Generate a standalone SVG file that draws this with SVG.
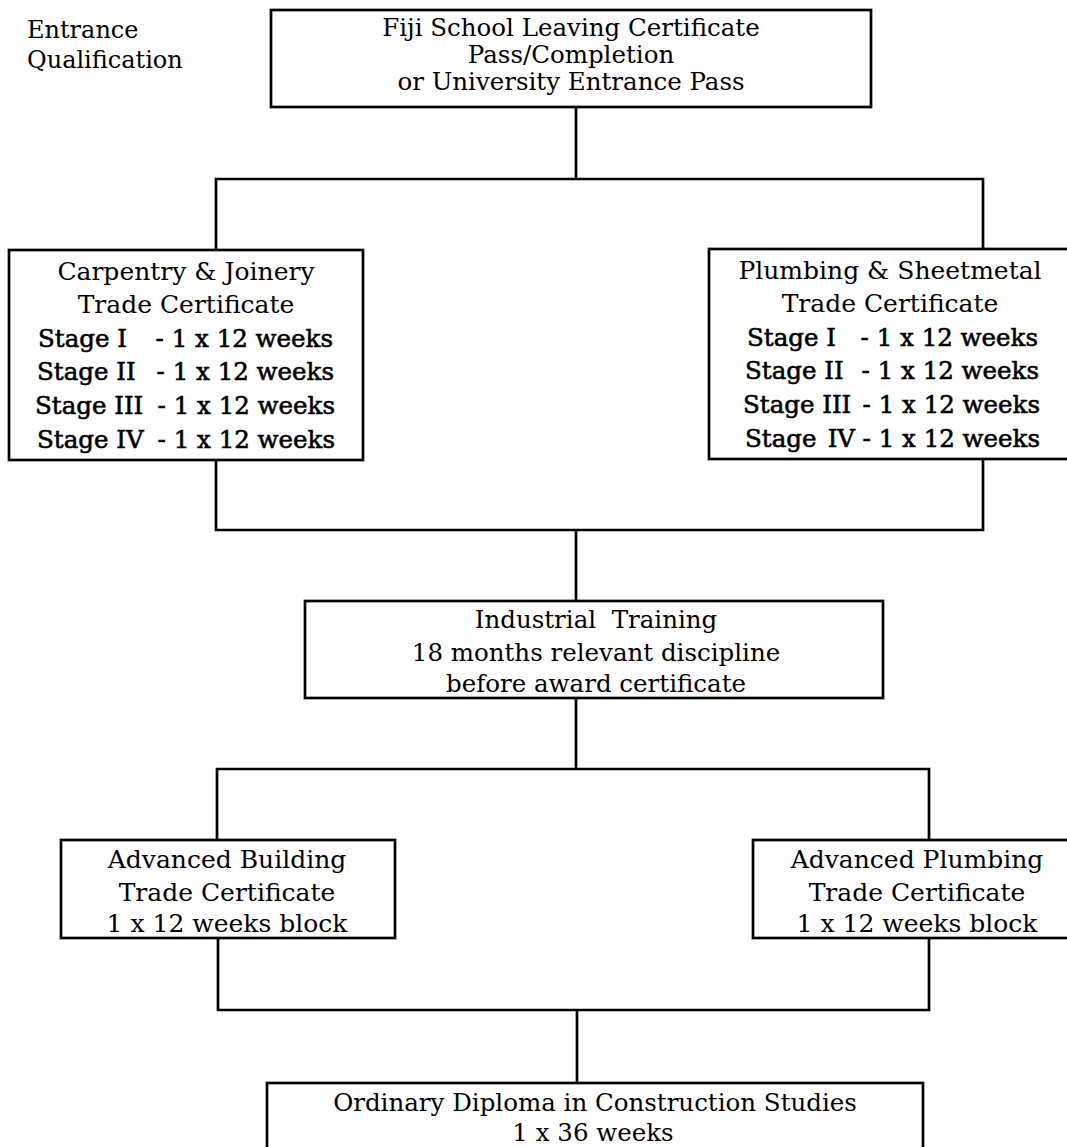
<svg xmlns="http://www.w3.org/2000/svg" width="1067" height="1147" viewBox="0 0 1067 1147">
<style>
.box{fill:#fff;stroke:#000;stroke-width:2.7}
.ln{fill:none;stroke:#000;stroke-width:2.7}
text{font-family:"DejaVu Serif","Liberation Serif",serif;font-size:24.5px;fill:#000}
.c{text-anchor:middle}
.e{text-anchor:end}
.b{stroke:#000;stroke-width:0.6}
.big{font-size:25px}
</style>
<rect width="1067" height="1147" fill="#fff"/>
<g id="connectors">
<path class="ln" d="M576,107 V179 M216,250 V179 H983 V249"/>
<path class="ln" d="M216,460 V530 H983 V459 M576,530 V601"/>
<path class="ln" d="M576,698 V769 M217,840 V769 H929 V840"/>
<path class="ln" d="M218,938 V1010 H929 V938 M577,1010 V1083"/>
</g>
<g id="label-entrance">
<text x="27" y="38" style="font-size:24px">Entrance</text>
<text x="27" y="68" style="font-size:24px">Qualification</text>
</g>
<g id="node-fslc">
<rect class="box" x="271" y="10" width="600" height="97"/>
<text class="c" x="571" y="36">Fiji School Leaving Certificate</text>
<text class="c" x="571" y="63">Pass/Completion</text>
<text class="c" x="571" y="90">or University Entrance Pass</text>
</g>
<g id="node-carpentry">
<rect class="box" x="9" y="250" width="354" height="210"/>
<text class="c big" x="186" y="280">Carpentry &amp; Joinery</text>
<text class="c big" x="186" y="313">Trade Certificate</text>
<text class="b" x="38" y="347">Stage I</text><text class="b e" x="333" y="347">- 1 x 12 weeks</text>
<text class="b" x="37" y="380">Stage II</text><text class="b e" x="334" y="380">- 1 x 12 weeks</text>
<text class="b" x="35" y="414">Stage III</text><text class="b e" x="335" y="414">- 1 x 12 weeks</text>
<text class="b" x="37" y="448">Stage IV</text><text class="b e" x="335" y="448">- 1 x 12 weeks</text>
</g>
<g id="node-plumbing">
<rect class="box" x="709" y="249" width="365" height="210"/>
<text class="c big" x="890" y="279">Plumbing &amp; Sheetmetal</text>
<text class="c big" x="890" y="312">Trade Certificate</text>
<text class="b" x="747" y="346">Stage I</text><text class="b e" x="1038" y="346">- 1 x 12 weeks</text>
<text class="b" x="745" y="379">Stage II</text><text class="b e" x="1039" y="379">- 1 x 12 weeks</text>
<text class="b" x="743" y="413">Stage III</text><text class="b e" x="1040" y="413">- 1 x 12 weeks</text>
<text class="b" x="745" y="447">Stage</text><text class="b e" x="855" y="447">IV</text><text class="b e" x="1040" y="447">- 1 x 12 weeks</text>
</g>
<g id="node-industrial">
<rect class="box" x="305" y="601" width="578" height="97"/>
<text class="c" x="596" y="628" xml:space="preserve">Industrial  Training</text>
<text class="c" x="596" y="661">18 months relevant discipline</text>
<text class="c" x="596" y="692">before award certificate</text>
</g>
<g id="node-adv-building">
<rect class="box" x="61" y="840" width="334" height="98"/>
<text class="c big" x="227" y="868">Advanced Building</text>
<text class="c big" x="227" y="901">Trade Certificate</text>
<text class="c big" x="227" y="932">1 x 12 weeks block</text>
</g>
<g id="node-adv-plumbing">
<rect class="box" x="753" y="840" width="320" height="98"/>
<text class="c big" x="917" y="868">Advanced Plumbing</text>
<text class="c big" x="917" y="901">Trade Certificate</text>
<text class="c big" x="917" y="932">1 x 12 weeks block</text>
</g>
<g id="node-diploma">
<rect class="box" x="267" y="1083" width="656" height="100"/>
<text class="c" x="595" y="1111">Ordinary Diploma in Construction Studies</text>
<text class="c" x="593" y="1141">1 x 36 weeks</text>
</g>
</svg>
